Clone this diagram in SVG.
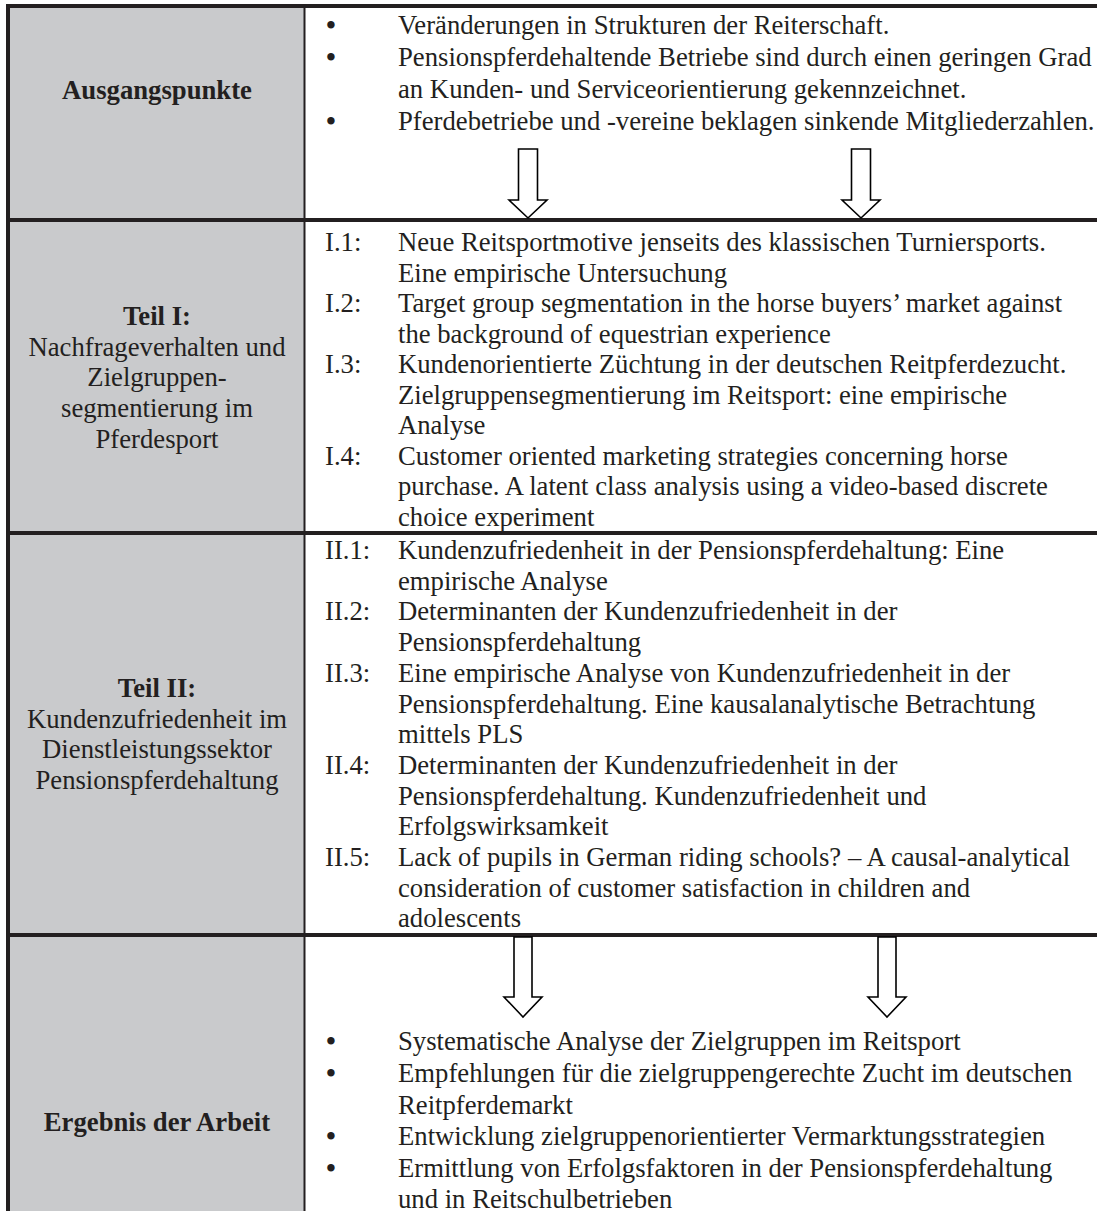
<svg xmlns="http://www.w3.org/2000/svg" width="1097" height="1211" viewBox="0 0 1097 1211">
<style>
  text { font-family: "Liberation Serif", "Times New Roman", serif; font-size: 26.7px; fill: #231f20; }
  .b { font-weight: bold; }
  .c { text-anchor: middle; }
  .bul { font-size: 31px; text-anchor: middle; }
  .cell { fill: #c9cacc; }
  .rule { fill: #231f20; }
  .arrow { fill: #ffffff; stroke: #000000; stroke-width: 1.6; stroke-linejoin: miter; }
</style>
<rect x="0" y="0" width="1097" height="1211" fill="#ffffff"/>

<g id="row-ausgangspunkte">
  <rect class="cell" x="10" y="8" width="294" height="210"/>
  <text class="b c" x="157" y="99">Ausgangspunkte</text>
  <g id="ausgangspunkte-items">
    <text class="bul" x="331" y="36">•</text>
    <text x="398" y="34">Veränderungen in Strukturen der Reiterschaft.</text>
    <text class="bul" x="331" y="68">•</text>
    <text x="398" y="66">Pensionspferdehaltende Betriebe sind durch einen geringen Grad<tspan x="398" dy="32">an Kunden- und Serviceorientierung gekennzeichnet.</tspan></text>
    <text class="bul" x="331" y="132">•</text>
    <text x="398" y="130">Pferdebetriebe und -vereine beklagen sinkende Mitgliederzahlen.</text>
  </g>
</g>

<g id="row-teil-1">
  <rect class="cell" x="10" y="222" width="294" height="309"/>
  <text class="c" x="157" y="325"><tspan class="b">Teil I:</tspan><tspan x="157" dy="30.7">Nachfrageverhalten und</tspan><tspan x="157" dy="30.7">Zielgruppen-</tspan><tspan x="157" dy="30.7">segmentierung im</tspan><tspan x="157" dy="30.7">Pferdesport</tspan></text>
  <g id="teil-1-items">
    <text x="325" y="251">I.1:</text>
    <text x="398" y="251">Neue Reitsportmotive jenseits des klassischen Turniersports.<tspan x="398" dy="30.5">Eine empirische Untersuchung</tspan></text>
    <text x="325" y="312">I.2:</text>
    <text x="398" y="312">Target group segmentation in the horse buyers’ market against<tspan x="398" dy="30.5">the background of equestrian experience</tspan></text>
    <text x="325" y="373">I.3:</text>
    <text x="398" y="373">Kundenorientierte Züchtung in der deutschen Reitpferdezucht.<tspan x="398" dy="30.5">Zielgruppensegmentierung im Reitsport: eine empirische</tspan><tspan x="398" dy="30.5">Analyse</tspan></text>
    <text x="325" y="464.5">I.4:</text>
    <text x="398" y="464.5">Customer oriented marketing strategies concerning horse<tspan x="398" dy="30.5">purchase. A latent class analysis using a video-based discrete</tspan><tspan x="398" dy="30.5">choice experiment</tspan></text>
  </g>
</g>

<g id="row-teil-2">
  <rect class="cell" x="10" y="535" width="294" height="398"/>
  <text class="c" x="157" y="697"><tspan class="b">Teil II:</tspan><tspan x="157" dy="30.7">Kundenzufriedenheit im</tspan><tspan x="157" dy="30.7">Dienstleistungssektor</tspan><tspan x="157" dy="30.7">Pensionspferdehaltung</tspan></text>
  <g id="teil-2-items">
    <text x="325" y="559">II.1:</text>
    <text x="398" y="559">Kundenzufriedenheit in der Pensionspferdehaltung: Eine<tspan x="398" dy="30.7">empirische Analyse</tspan></text>
    <text x="325" y="620.4">II.2:</text>
    <text x="398" y="620.4">Determinanten der Kundenzufriedenheit in der<tspan x="398" dy="30.7">Pensionspferdehaltung</tspan></text>
    <text x="325" y="681.8">II.3:</text>
    <text x="398" y="681.8">Eine empirische Analyse von Kundenzufriedenheit in der<tspan x="398" dy="30.7">Pensionspferdehaltung. Eine kausalanalytische Betrachtung</tspan><tspan x="398" dy="30.7">mittels PLS</tspan></text>
    <text x="325" y="773.9">II.4:</text>
    <text x="398" y="773.9">Determinanten der Kundenzufriedenheit in der<tspan x="398" dy="30.7">Pensionspferdehaltung. Kundenzufriedenheit und</tspan><tspan x="398" dy="30.7">Erfolgswirksamkeit</tspan></text>
    <text x="325" y="866">II.5:</text>
    <text x="398" y="866">Lack of pupils in German riding schools? – A causal-analytical<tspan x="398" dy="30.7">consideration of customer satisfaction in children and</tspan><tspan x="398" dy="30.7">adolescents</tspan></text>
  </g>
</g>

<g id="row-ergebnis">
  <rect class="cell" x="10" y="937" width="294" height="274"/>
  <text class="b c" x="157" y="1131">Ergebnis der Arbeit</text>
  <g id="ergebnis-items">
    <text class="bul" x="331" y="1052">•</text>
    <text x="398" y="1050">Systematische Analyse der Zielgruppen im Reitsport</text>
    <text class="bul" x="331" y="1084">•</text>
    <text x="398" y="1082">Empfehlungen für die zielgruppengerechte Zucht im deutschen<tspan x="398" dy="31.6">Reitpferdemarkt</tspan></text>
    <text class="bul" x="331" y="1147">•</text>
    <text x="398" y="1145">Entwicklung zielgruppenorientierter Vermarktungsstrategien</text>
    <text class="bul" x="331" y="1179">•</text>
    <text x="398" y="1177">Ermittlung von Erfolgsfaktoren in der Pensionspferdehaltung<tspan x="398" dy="31">und in Reitschulbetrieben</tspan></text>
  </g>
</g>

<g id="grid">
  <rect class="rule" x="6" y="4" width="1091" height="4"/>
  <rect class="rule" x="6" y="4" width="4" height="1207"/>
  <rect class="rule" x="303.5" y="8" width="2" height="1203"/>
  <rect class="rule" x="6" y="218" width="1091" height="4"/>
  <rect class="rule" x="6" y="531" width="1091" height="4"/>
  <rect class="rule" x="6" y="933" width="1091" height="4"/>
</g>

<g id="connectors">
  <path class="arrow" d="M518.5,149 H537.5 V200 H547 L528,218 L509,200 H518.5 Z"/>
  <path class="arrow" d="M851.5,149 H870.5 V200 H880 L861,218 L842,200 H851.5 Z"/>
  <path class="arrow" d="M514,937 H532 V997 H542 L523,1017 L504,997 H514 Z"/>
  <path class="arrow" d="M878,937 H896 V997 H906 L887,1017 L868,997 H878 Z"/>
</g>
</svg>
